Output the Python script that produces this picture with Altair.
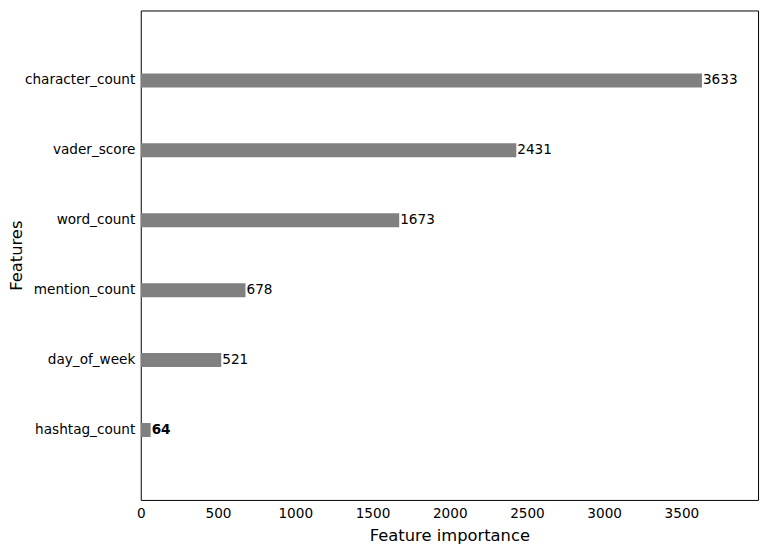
import altair as alt
import pandas as pd

features = ["character_count", "vader_score", "word_count", "mention_count", "day_of_week", "hashtag_count"]
importance = [3633, 2431, 1673, 678, 521, 64]
bold_flags = [False, False, False, False, False, True]
x_ticks = [0, 500, 1000, 1500, 2000, 2500, 3000, 3500]

df = pd.DataFrame({"feature": features, "importance": importance, "bold": bold_flags})

FONT = "DejaVu Sans"
FS = 13.75

y_enc = alt.Y(
    "feature:N",
    sort=features,
    title="Features",
    scale=alt.Scale(paddingInner=0.8, paddingOuter=0.9),
    axis=alt.Axis(ticks=False, labelPadding=6, labelFontSize=FS, labelColor="black",
                  titleFontSize=16.5, titleFontWeight="normal", titleColor="black",
                  titleX=-125, titleY=247, titleBaseline="middle", titleAngle=270,
                  domain=False, labelFont=FONT, titleFont=FONT),
)
x_enc = alt.X(
    "importance:Q",
    title="Feature importance",
    scale=alt.Scale(domain=[0, 3996], nice=False, zero=True),
    axis=alt.Axis(values=x_ticks, format="d", ticks=False, labelPadding=7, labelFontSize=FS,
                  labelColor="black",
                  titleFontSize=16.5, titleFontWeight="normal", titleColor="black",
                  titlePadding=7, domain=False, grid=False, labelFont=FONT, titleFont=FONT,
                  labelFlush=False),
)

bars = alt.Chart(df).mark_bar(color="#808080").encode(x=x_enc, y=y_enc)

labels_normal = alt.Chart(df).transform_filter(~alt.datum.bold).mark_text(
    align="left", baseline="middle", dx=1, fontSize=FS, font=FONT, color="black"
).encode(
    x=alt.X("importance:Q"),
    y=alt.Y("feature:N", sort=features),
    text=alt.Text("importance:Q", format="d"),
)

labels_bold = alt.Chart(df).transform_filter(alt.datum.bold).mark_text(
    align="left", baseline="middle", dx=1, fontSize=FS, font=FONT, color="black", fontWeight="bold"
).encode(
    x=alt.X("importance:Q"),
    y=alt.Y("feature:N", sort=features),
    text=alt.Text("importance:Q", format="d"),
)

chart = (
    alt.layer(bars, labels_normal, labels_bold)
    .properties(width=623, height=494, background="white",
                padding={"left": 134, "top": 0, "right": 5, "bottom": 45},
                autosize=alt.AutoSizeParams(type="none"))
    .configure_view(stroke="black", strokeWidth=1)
)

chart.save("out.html", embed_options={"renderer": "svg", "actions": False})
